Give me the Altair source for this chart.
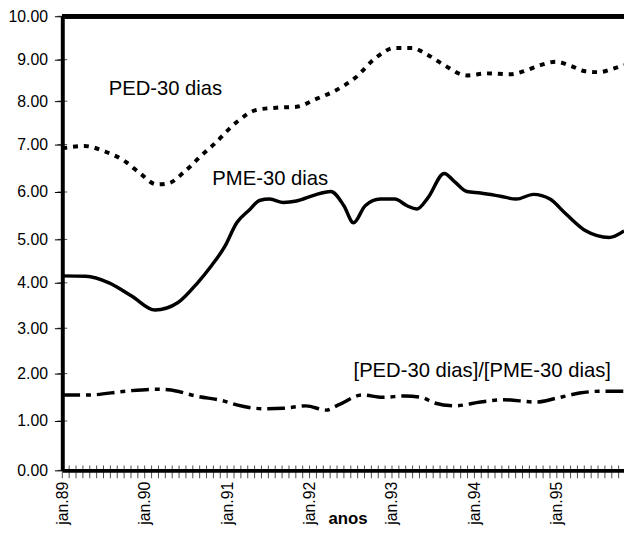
import altair as alt
import pandas as pd

# ---------------- data (month index: 0 = jan.89) ----------------
ped_months = [0, 3.2, 6.3, 9.2, 11.5, 13.7, 15.4, 17.8, 20.1, 22.1, 25.4, 28.3, 31.2, 34.1, 36.9,
              39.8, 42.7, 45.6, 48.4, 50.9, 53.2, 55.6, 58.9, 61.8, 65.2, 67.5, 69.6, 71.9, 73.9,
              76.2, 78.2, 80.1, 81.8]
ped_values = [6.92, 6.97, 6.85, 6.64, 6.37, 6.16, 6.18, 6.43, 6.75, 7.01, 7.52, 7.80, 7.85, 7.87, 8.05,
              8.26, 8.57, 9.04, 9.27, 9.27, 9.11, 8.87, 8.62, 8.67, 8.65, 8.74, 8.87, 8.95, 8.86,
              8.72, 8.70, 8.78, 8.87]

pme_months = [0, 3.4, 6.8, 10.1, 13.5, 16.8, 19.7, 21.6, 23.6, 25.4, 27.3, 28.7, 30.2, 32.2, 34.1,
              36.6, 39.1, 41.0, 42.4, 44.1, 46.3, 48.4, 50.2, 51.6, 53.2, 55.6, 57.1, 58.9, 60.9,
              63.8, 66.1, 68.6, 71.0, 73.3, 76.2, 79.6, 81.8]
pme_values = [4.16, 4.15, 4.00, 3.71, 3.40, 3.56, 4.00, 4.37, 4.82, 5.35, 5.63, 5.82, 5.85, 5.78, 5.81,
              5.93, 6.01, 5.71, 5.35, 5.71, 5.85, 5.85, 5.71, 5.64, 5.87, 6.39, 6.22, 6.01, 5.98,
              5.91, 5.85, 5.95, 5.85, 5.54, 5.18, 5.04, 5.18]

ratio_months = [0, 3.9, 9.2, 13.5, 15.4, 19.7, 23.6, 25.4, 29.3, 32.2, 35.5, 38.4, 40.2, 43.7, 46.6,
                49.9, 52.3, 54.2, 57.1, 60.9, 64.2, 69.0, 71.9, 75.3, 78.6, 81.8]
ratio_values = [1.55, 1.55, 1.63, 1.67, 1.66, 1.52, 1.42, 1.34, 1.26, 1.27, 1.32, 1.23, 1.34, 1.55, 1.50,
                1.53, 1.50, 1.38, 1.32, 1.40, 1.45, 1.40, 1.48, 1.59, 1.63, 1.63]

year_labels = ["jan.89", "jan.90", "jan.91", "jan.92", "jan.93", "jan.94", "jan.95"]
year_months = [0, 12, 24, 36, 48, 60, 72]
y_ticks = [0, 1, 2, 3, 4, 5, 6, 7, 8, 9, 10]

ann_text = ["PED-30 dias", "PME-30 dias", "[PED-30 dias]/[PME-30 dias]"]
ann_month = [6.75, 21.85, 42.4]
ann_value = [8.28, 6.28, 2.05]

X_MAX = 81.78
month_ticks = list(range(82))
# tick positions (px from top) of the scanned axis, so the scale follows the original
y_range_px = [460, 410, 362, 316, 270, 226, 178, 130, 86, 44, 0]

# ---------------- tables ----------------
rows = []
for name, ms, vs in [("PED", ped_months, ped_values), ("PME", pme_months, pme_values),
                     ("RATIO", ratio_months, ratio_values)]:
    for m, v in zip(ms, vs):
        rows.append({"serie": name, "month": m, "value": v})
df = pd.DataFrame(rows)
ann_df = pd.DataFrame({"text": ann_text, "month": ann_month, "value": ann_value})
xt_df = pd.DataFrame({"month": month_ticks})
yt_df = pd.DataFrame({"value": y_ticks})

FONT = "Liberation Sans"
label_arr = "[" + ",".join("'%s'" % s for s in year_labels) + "]"
label_expr = label_arr + "[round(datum.value / 12)]"

x_enc = alt.X(
    "month:Q",
    scale=alt.Scale(domain=[0, X_MAX], nice=False, zero=False),
    axis=alt.Axis(
        values=year_months, labelExpr=label_expr, labelAngle=-90, labelFont=FONT,
        labelFontSize=16, labelColor="black", labelPadding=11, labelOverlap=False,
        labelFlush=False, ticks=False, domainWidth=4,
        domainColor="black", grid=False, title="anos", titleFont=FONT, titleFontSize=17,
        titleFontWeight="bold", titleColor="black", titleX=289, titleY=54,
        titleBaseline="alphabetic", titleAlign="center", titleAngle=0,
    ),
)
y_enc = alt.Y(
    "value:Q",
    scale=alt.Scale(domain=y_ticks, range=y_range_px, nice=False, zero=False),
    axis=alt.Axis(
        values=y_ticks, format=".2f", labelFont=FONT, labelFontSize=16, labelColor="black",
        labelPadding=7, tickSize=8, tickWidth=1, tickColor="black", domainWidth=4,
        domainColor="black", grid=False, title="",
    ),
)

base = alt.Chart(df)
ped = base.transform_filter("datum.serie == 'PED'").mark_line(
    color="black", strokeWidth=4, strokeDash=[5, 6], strokeCap="butt", interpolate="monotone"
).encode(x=x_enc, y=y_enc)
pme = base.transform_filter("datum.serie == 'PME'").mark_line(
    color="black", strokeWidth=3.5, interpolate="monotone"
).encode(x=x_enc, y=y_enc)
ratio = base.transform_filter("datum.serie == 'RATIO'").mark_line(
    color="black", strokeWidth=3.5, strokeDash=[18, 6, 5, 6], strokeCap="butt", interpolate="monotone"
).encode(x=x_enc, y=y_enc)

labels = alt.Chart(ann_df).mark_text(
    align="left", baseline="middle", font=FONT, fontSize=20.5, color="black"
).encode(x=x_enc, y=y_enc, text="text:N")

# monthly ticks crossing the x axis (5 px above, 8 px below)
xticks = alt.Chart(xt_df).mark_tick(
    orient="vertical", size=13, thickness=1, color="black", yOffset=1.5
).encode(x=x_enc, y=alt.datum(0))
# inner part of the y ticks
yticks = alt.Chart(yt_df).mark_tick(
    orient="horizontal", size=10, thickness=1, color="black"
).encode(x=alt.datum(0), y=y_enc)

top = alt.Chart(yt_df).mark_rule(color="black", strokeWidth=4).encode(y=alt.datum(10))

chart = alt.layer(xticks, yticks, top, ped, pme, ratio, labels).properties(
    width=569, height=460,
    autosize=alt.AutoSizeParams(type="none"),
    padding={"left": 55, "top": 5, "right": 0, "bottom": 56},
).configure_view(stroke=None)

chart.save("out.html", embed_options={"renderer": "svg", "actions": False})
